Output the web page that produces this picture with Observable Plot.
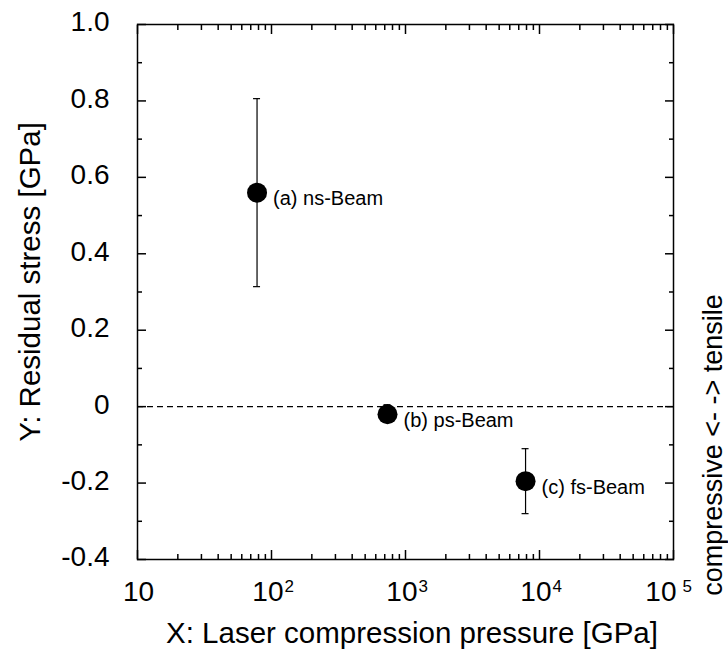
<!DOCTYPE html>
<html>
<head>
<meta charset="utf-8">
<script src="https://cdn.jsdelivr.net/npm/d3@7"></script>
<script src="https://cdn.jsdelivr.net/npm/@observablehq/plot@0.6"></script>
<style>
  html, body { margin: 0; padding: 0; background: #fff; }
  svg { font-family: "Liberation Sans", Arial, Helvetica, sans-serif; }
</style>
</head>
<body>
<div id="chart"></div>
<script>
// Data
const beams = ["(a) ns-Beam", "(b) ps-Beam", "(c) fs-Beam"];
const pressure = [78, 734, 7870];          // GPa
const stress = [0.56, -0.02, -0.195];      // GPa
const errLow = [0.314, -0.04, -0.28];
const errHigh = [0.806, 0.005, -0.11];

const yTicks = [-0.4, -0.2, 0, 0.2, 0.4, 0.6, 0.8, 1.0];
const yTickLabels = ["-0.4", "-0.2", "0", "0.2", "0.4", "0.6", "0.8", "1.0"];
const yMinorTicks = [-0.3, -0.1, 0.1, 0.3, 0.5, 0.7, 0.9];
const xDecades = [10, 100, 1000, 10000, 100000];
const xExponents = ["", "2", "3", "4", "5"];
const xMinorTicks = [];
for (let d = 10; d < 100000; d *= 10) for (let k = 2; k <= 9; k++) xMinorTicks.push(d * k);

const data = beams.map((b, i) => ({
  label: b, x: pressure[i], y: stress[i], lo: errLow[i], hi: errHigh[i]
}));
const decades = xDecades.map((v, i) => ({ v, e: xExponents[i], i }));
const firstDecade = decades.filter(d => !d.e);
const midDecades = decades.filter(d => d.e && d.i < decades.length - 1);
const lastDecade = decades.filter(d => d.e && d.i === decades.length - 1);
const yBottom = yTicks[0];
const capF = 1.062;
const tick = { stroke: "black", strokeWidth: 1.5, text: null, label: null };

const chart = Plot.plot({
  width: 728,
  height: 658,
  marginLeft: 137,
  marginRight: 55,
  marginTop: 24,
  marginBottom: 99,
  x: { type: "log", domain: [10, 100000] },
  y: { domain: [-0.4, 1.0] },
  style: { fontFamily: "Liberation Sans, Arial, sans-serif", background: "white", color: "black" },
  marks: [
    // inward ticks on all four sides
    Plot.axisY({ ...tick, anchor: "left", ticks: yTicks, tickSize: 9, insetLeft: 9 }),
    Plot.axisY({ ...tick, anchor: "right", ticks: yTicks, tickSize: 9, insetRight: 9 }),
    Plot.axisY({ ...tick, anchor: "left", ticks: yMinorTicks, tickSize: 5, insetLeft: 5 }),
    Plot.axisY({ ...tick, anchor: "right", ticks: yMinorTicks, tickSize: 5, insetRight: 5 }),
    Plot.axisX({ ...tick, anchor: "bottom", ticks: xDecades, tickSize: 9, insetBottom: 9 }),
    Plot.axisX({ ...tick, anchor: "top", ticks: xDecades, tickSize: 9, insetTop: 9 }),
    Plot.axisX({ ...tick, anchor: "bottom", ticks: xMinorTicks, tickSize: 5, insetBottom: 5 }),
    Plot.axisX({ ...tick, anchor: "top", ticks: xMinorTicks, tickSize: 5, insetTop: 5 }),
    // y tick labels
    Plot.axisY({ anchor: "left", ticks: yTicks, tickSize: 0, tickPadding: 28, dy: -2,
      tickFormat: (d) => yTickLabels[yTicks.indexOf(d)] ?? d3.format(".1f")(d),
      fontSize: 28, fill: "black", label: null }),
    // x tick labels: 10, 10^2 ... 10^5
    Plot.text(firstDecade, { x: "v", y: () => yBottom, text: () => "10",
      textAnchor: "middle", dx: 1, dy: 33, fontSize: 28, fill: "black" }),
    Plot.text(midDecades, { x: "v", y: () => yBottom, text: () => "10",
      textAnchor: "end", dx: 12, dy: 33, fontSize: 28, fill: "black" }),
    Plot.text(midDecades, { x: "v", y: () => yBottom, text: "e",
      textAnchor: "start", dx: 13, dy: 27, fontSize: 17, fill: "black" }),
    Plot.text(lastDecade, { x: "v", y: () => yBottom, text: () => "10",
      textAnchor: "end", dx: 3, dy: 33, fontSize: 28, fill: "black" }),
    Plot.text(lastDecade, { x: "v", y: () => yBottom, text: "e",
      textAnchor: "start", dx: 9, dy: 27, fontSize: 17, fill: "black" }),
    Plot.frame({ stroke: "black", strokeWidth: 1.5 }),
    Plot.ruleY([0], { strokeDasharray: "6,4", stroke: "black", strokeWidth: 1.2 }),
    // error bars
    Plot.ruleX(data, { x: "x", y1: "lo", y2: "hi", stroke: "black", strokeWidth: 1.2 }),
    Plot.ruleY(data, { y: "lo", x1: d => d.x / capF, x2: d => d.x * capF, stroke: "black", strokeWidth: 1.2 }),
    Plot.ruleY(data, { y: "hi", x1: d => d.x / capF, x2: d => d.x * capF, stroke: "black", strokeWidth: 1.2 }),
    Plot.dot(data, { x: "x", y: "y", r: 10, fill: "black" }),
    Plot.text(data, { x: "x", y: "y", text: "label", textAnchor: "start", dx: 16, dy: 6,
      fontSize: 20, fill: "black" }),
  ]
});

document.getElementById("chart").append(chart);

const svg = d3.select(chart);
// Axis titles
svg.append("text")
  .attr("x", 412).attr("y", 643)
  .attr("text-anchor", "middle")
  .attr("font-size", 29.5)
  .attr("fill", "black")
  .text("X: Laser compression pressure [GPa]");
svg.append("text")
  .attr("transform", "translate(40,282) rotate(-90)")
  .attr("text-anchor", "middle")
  .attr("font-size", 29.5)
  .attr("fill", "black")
  .text("Y: Residual stress [GPa]");
svg.append("text")
  .attr("transform", "translate(722,445) rotate(-90)")
  .attr("text-anchor", "middle")
  .attr("font-size", 27)
  .attr("fill", "black")
  .text("compressive <- -> tensile");
</script>
</body>
</html>
